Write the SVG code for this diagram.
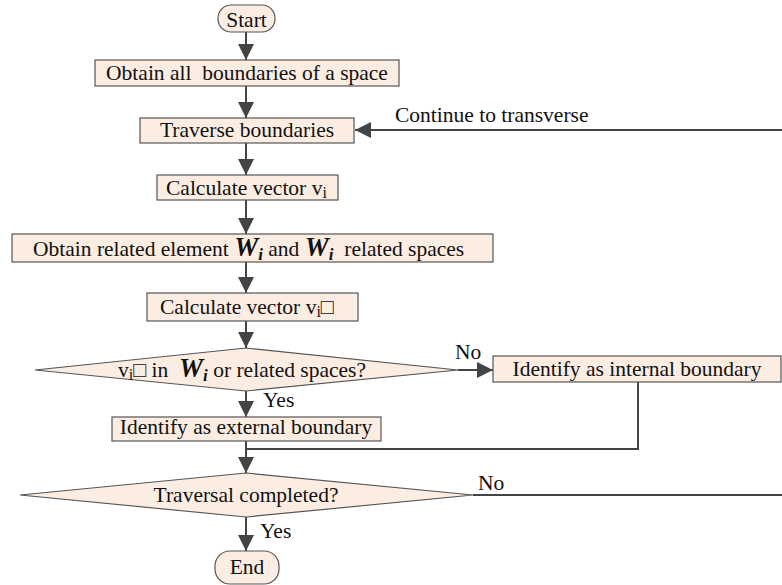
<svg xmlns="http://www.w3.org/2000/svg" width="782" height="585" viewBox="0 0 782 585">
<defs>
<marker id="ah" markerUnits="userSpaceOnUse" markerWidth="16" markerHeight="16" refX="16" refY="8" orient="auto">
<path d="M0,0 L16,8 L0,16 z" fill="#444"/>
</marker>
<style>
.box{fill:#FCEDE3;stroke:#555;stroke-width:1.2}
.t{font-family:"Liberation Serif","Times New Roman",serif;font-size:21.5px;fill:#111;white-space:pre}
.c{text-anchor:middle}
.w{font-weight:bold;font-style:italic;font-size:27px}
.sb{font-size:16px}
.swi{font-weight:bold;font-style:italic;font-size:17px}
.ln{fill:none;stroke:#444;stroke-width:2}
</style>
</defs>
<rect width="782" height="585" fill="#fff"/>
<g id="connectors">
<path class="ln" d="M246,32 V60" marker-end="url(#ah)"/>
<path class="ln" d="M246,86 V118" marker-end="url(#ah)"/>
<path class="ln" d="M782,130 H355" marker-end="url(#ah)"/>
<path class="ln" d="M246,143 V175" marker-end="url(#ah)"/>
<path class="ln" d="M246,200 V234" marker-end="url(#ah)"/>
<path class="ln" d="M246,262 V293" marker-end="url(#ah)"/>
<path class="ln" d="M246,321 V348" marker-end="url(#ah)"/>
<path class="ln" d="M458,370 H493" marker-end="url(#ah)"/>
<path class="ln" d="M246,391 V417" marker-end="url(#ah)"/>
<path class="ln" d="M638,382 V449 H246"/>
<path class="ln" d="M246,441 V473" marker-end="url(#ah)"/>
<path class="ln" d="M473,495 H782"/>
<path class="ln" d="M246,517 V551" marker-end="url(#ah)"/>
<text class="t" x="395" y="122">Continue to transverse</text>
<text class="t" x="455" y="359">No</text>
<text class="t" x="263" y="407">Yes</text>
<text class="t" x="478" y="490">No</text>
<text class="t" x="260" y="538">Yes</text>
</g>
<g id="start">
<rect class="box" x="218" y="5" width="57" height="27" rx="13"/>
<text class="t c" x="246.5" y="27">Start</text>
</g>
<g id="obtain-boundaries">
<rect class="box" x="95" y="60" width="304" height="26"/>
<text class="t c" x="247" y="80">Obtain all  boundaries of a space</text>
</g>
<g id="traverse">
<rect class="box" x="140" y="118" width="214" height="25"/>
<text class="t c" x="247" y="137">Traverse boundaries</text>
</g>
<g id="calc-vi">
<rect class="box" x="157" y="175" width="181" height="25"/>
<text class="t" x="166" y="195">Calculate vector v<tspan class="sb" dy="3">i</tspan></text>
</g>
<g id="obtain-related">
<rect class="box" x="12" y="234" width="481" height="28"/>
<text class="t" x="33" y="256">Obtain related element <tspan class="w">W</tspan><tspan class="swi" dy="4">i</tspan><tspan dy="-4"> and </tspan><tspan class="w">W</tspan><tspan class="swi" dy="4">i</tspan><tspan dy="-4">  related spaces</tspan></text>
</g>
<g id="calc-vi-prime">
<rect class="box" x="147" y="293" width="211" height="28"/>
<text class="t" x="160" y="314">Calculate vector v<tspan class="sb" dy="3">i</tspan><tspan dy="-3">□</tspan></text>
</g>
<g id="decision-in">
<polygon class="box" points="246,348 458,370 246,391 35,370"/>
<text class="t" x="118" y="377">v<tspan class="sb" dy="3">i</tspan><tspan dy="-3">□ in  </tspan><tspan class="w">W</tspan><tspan class="swi" dy="4">i</tspan><tspan dy="-4"> or related spaces?</tspan></text>
</g>
<g id="internal">
<rect class="box" x="493" y="356" width="288" height="26"/>
<text class="t c" x="637" y="376">Identify as internal boundary</text>
</g>
<g id="external">
<rect class="box" x="112" y="417" width="269" height="24"/>
<text class="t c" x="246" y="434">Identify as external boundary</text>
</g>
<g id="decision-complete">
<polygon class="box" points="246,473 473,495 246,517 20,495"/>
<text class="t c" x="246" y="502">Traversal completed?</text>
</g>
<g id="end">
<rect class="box" x="215" y="551" width="64" height="33" rx="15"/>
<text class="t c" x="247" y="574">End</text>
</g>
</svg>
